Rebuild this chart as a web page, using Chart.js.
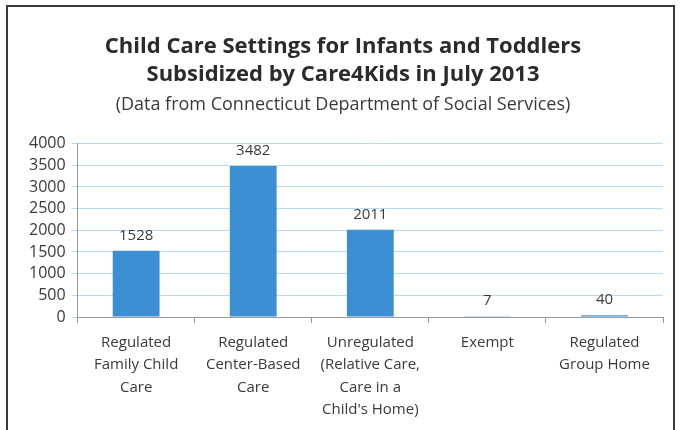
<!DOCTYPE html>
<html>
<head>
<meta charset="utf-8">
<script src="https://cdn.jsdelivr.net/npm/chart.js@4/dist/chart.umd.min.js"></script>
<style>
  body { margin: 0; background: #fff; }
  #wrap { width: 681px; height: 430px; }
</style>
</head>
<body>
<div id="wrap"><canvas id="myChart"></canvas></div>
<script>
const categories = [
    ["Regulated", "Family Child", "Care"],
    ["Regulated", "Center-Based", "Care"],
    ["Unregulated", "(Relative Care,", "Care in a", "Child's Home)"],
    ["Exempt"],
    ["Regulated", "Group Home"]
];
const counts = [1528, 3482, 2011, 7, 40];
const yTicks = [0, 500, 1000, 1500, 2000, 2500, 3000, 3500, 4000];

const fontFam = "'Open Sans', Lato, sans-serif";

// draw value above each bar + the picture frame
const valueLabels = {
    id: 'valueLabels',
    afterDatasetsDraw(chart) {
        let ctx = chart.ctx;
        let meta = chart.getDatasetMeta(0);
        ctx.save();
        ctx.font = "15px " + fontFam;
        ctx.fillStyle = '#3a3a3a';
        ctx.textAlign = 'center';
        ctx.textBaseline = 'bottom';
        meta.data.forEach((bar, i) => {
            ctx.fillText(counts[i], bar.x, bar.y - 8);
        });
        ctx.restore();
    },
    beforeDraw(chart) {
        let ctx = chart.ctx;
        ctx.save();
        ctx.strokeStyle = '#3a3a3a';
        ctx.lineWidth = 2;
        ctx.beginPath();
        ctx.moveTo(7, 440);
        ctx.lineTo(7, 6);
        ctx.lineTo(674, 6);
        ctx.lineTo(674, 440);
        ctx.stroke();
        ctx.restore();
    }
};

new Chart("myChart", {
    type: "bar",
    data: {
        labels: categories,
        datasets: [{
            data: counts,
            backgroundColor: "#3b8fd2",
            categoryPercentage: 0.4,
            barPercentage: 1.0
        }]
    },
    options: {
        responsive: true,
        maintainAspectRatio: false,
        animation: false,
        layout: { padding: { left: 23, right: 18, top: 0, bottom: 1 } },
        plugins: {
            legend: { display: false },
            tooltip: { enabled: false },
            title: {
                display: true,
                text: ["Child Care Settings for Infants and Toddlers", "Subsidized by Care4Kids in July 2013"],
                color: '#2b2b2b',
                font: { family: fontFam, size: 22, weight: 'bold', lineHeight: 1.3 },
                padding: { top: 32, bottom: 4 }
            },
            subtitle: {
                display: true,
                text: "(Data from Connecticut Department of Social Services)",
                color: '#3a3a3a',
                font: { family: fontFam, size: 18, lineHeight: 1.3 },
                padding: { top: 0, bottom: 27 }
            }
        },
        scales: {
            x: {
                grid: { display: true, drawOnChartArea: false, drawTicks: true, tickLength: 6, color: '#999999', offset: true },
                border: { color: '#999999' },
                ticks: {
                    color: '#3a3a3a',
                    font: { family: fontFam, size: 15, lineHeight: 1.5 },
                    maxRotation: 0,
                    autoSkip: false,
                    padding: 8
                }
            },
            y: {
                min: 0,
                max: 4000,
                afterBuildTicks(axis) {
                    axis.ticks = yTicks.map(v => ({ value: v }));
                },
                grid: { color: '#b4dbf3', drawTicks: true, tickLength: 6 },
                border: { color: '#999999' },
                ticks: {
                    color: '#3a3a3a',
                    font: { family: fontFam, size: 16 },
                    padding: 6,
                    autoSkip: false,
                    callback: (v) => String(v)
                }
            }
        }
    },
    plugins: [valueLabels]
});
</script>
</body>
</html>
